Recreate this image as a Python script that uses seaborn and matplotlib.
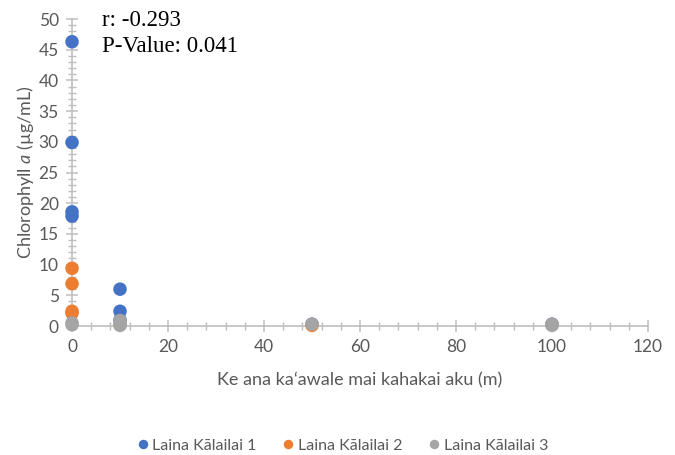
import matplotlib
matplotlib.use("Agg")
import matplotlib.pyplot as plt
from matplotlib.ticker import MultipleLocator
import seaborn as sns
import pandas as pd

# Distance from shore (m) and chlorophyll a (µg/mL) per transect line
line1_dist = [0, 0, 0, 0, 10, 10, 10, 50, 100]
line1_chl = [46.3, 29.9, 18.6, 17.9, 6.0, 2.4, 1.0, 0.3, 0.3]
line2_dist = [0, 0, 0, 0, 10, 50, 100]
line2_chl = [9.4, 6.9, 2.4, 2.1, 0.2, 0.1, 0.2]
line3_dist = [0, 0, 10, 10, 10, 50, 100, 100]
line3_chl = [0.5, 0.2, 0.9, 0.4, 0.1, 0.3, 0.3, 0.1]
series_names = ["Laina Kālailai 1", "Laina Kālailai 2", "Laina Kālailai 3"]
series_colors = ["#4472C4", "#ED7D31", "#A5A5A5"]
r_value = -0.293
p_value = 0.041

frames = []
for name, d, c in zip(series_names, [line1_dist, line2_dist, line3_dist],
                      [line1_chl, line2_chl, line3_chl]):
    frames.append(pd.DataFrame({"dist": d, "chl": c, "line": name}))
df = pd.concat(frames, ignore_index=True)

sns.set_theme(style="white")
plt.rcParams["font.family"] = ["Lato", "DejaVu Sans"]
plt.rcParams["mathtext.fontset"] = "custom"
plt.rcParams["mathtext.rm"] = "Lato"
plt.rcParams["mathtext.it"] = "Lato:italic"

fig = plt.figure(figsize=(6.75, 4.55), dpi=100)
ax = fig.add_axes([0.1067, 0.2835, 0.8533, 0.6747])

sns.scatterplot(data=df, x="dist", y="chl", hue="line", hue_order=series_names,
                palette=series_colors, s=95, edgecolor="none", linewidth=0,
                ax=ax, clip_on=False, zorder=5)

axis_col = "#BFBFBF"
text_col = "#595959"
ax.set_xlim(0, 120)
ax.set_ylim(0, 50)
ax.xaxis.set_major_locator(MultipleLocator(20))
ax.xaxis.set_minor_locator(MultipleLocator(4))
ax.yaxis.set_major_locator(MultipleLocator(5))
ax.yaxis.set_minor_locator(MultipleLocator(1))
for side in ["top", "right"]:
    ax.spines[side].set_visible(False)
for side in ["left", "bottom"]:
    ax.spines[side].set_color(axis_col)
    ax.spines[side].set_linewidth(1.2)
ax.tick_params(which="major", direction="inout", length=9, width=1.1,
               color=axis_col, labelcolor=text_col, labelsize=12.5, pad=5)
ax.tick_params(which="minor", direction="inout", length=6, width=1.0,
               color=axis_col)
ax.tick_params(axis="x", which="both", bottom=True)
ax.tick_params(axis="y", which="both", left=True)

ax.set_xlabel("Ke ana kaʻawale mai kahakai aku (m)", fontsize=13,
              color=text_col, labelpad=12)
ax.set_ylabel(r"Chlorophyll $\mathit{a}$ (µg/mL)", fontsize=13,
              color=text_col, labelpad=2)

fig.text(0.151, 0.955, f"r: {r_value:.3f}", fontsize=16.5,
         family="Liberation Serif", color="black", va="center")
fig.text(0.151, 0.897, f"P-Value: {p_value:.3f}", fontsize=16.5,
         family="Liberation Serif", color="black", va="center")

leg = ax.legend(loc="center", bbox_to_anchor=(0.5, 0.02),
                bbox_transform=fig.transFigure, ncol=3, frameon=False,
                fontsize=11.5, markerscale=0.7, handletextpad=-0.4,
                columnspacing=1.0, labelcolor=text_col)

fig.savefig("out.png", dpi=100)
